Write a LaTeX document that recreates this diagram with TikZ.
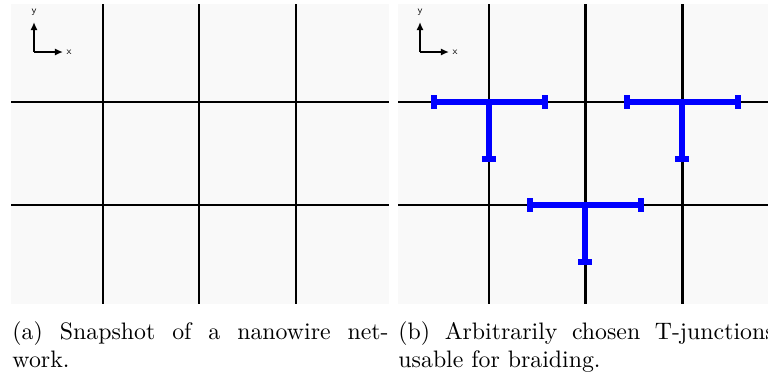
\documentclass[tikz,border=0pt]{standalone}
\usepackage{tikz}
\usetikzlibrary{arrows.meta}
\definecolor{panelbg}{RGB}{249,249,249}
\definecolor{wireblue}{RGB}{0,0,255}

\tikzset{
  wire/.style={line width=1.25pt, black},
  tarm/.style={line width=2.4pt, wireblue},
  tcap/.style={fill=wireblue},
  axis/.style={line width=0.85pt, -{Latex[length=3.4pt,width=3pt]}},
  axlabel/.style={font=\fontsize{4.2}{5}\selectfont\sffamily, inner sep=0pt},
  caption/.style={anchor=base west, inner sep=0pt, text width=158pt, align=justify}
}

\begin{document}
\begin{tikzpicture}[x=0.42pt, y=-0.42pt]
    \useasboundingbox (0,0) rectangle (768,376);

    % panel (a): bare network
    \fill[panelbg] (11,4) rectangle (389,304);
    \foreach \x in {103,199,296} {\draw[wire] (\x,4) -- (\x,304);}
    \foreach \y in {102,205} {\draw[wire] (11,\y) -- (389,\y);}
    \coordinate (oa) at (34,52);
    \draw[axis] (oa) -- ++(0,-30);
    \draw[axis] (oa) -- ++(29,0);
    \node[axlabel] (ya) at (34,12) {y};
    \node[axlabel] (xa) at (69,52) {x};

    % panel (b): network with T-junctions
    \fill[panelbg] (398,4) rectangle (768,304);
    \foreach \x in {489,585,682} {\draw[wire] (\x,4) -- (\x,304);}
    \foreach \y in {102,205} {\draw[wire] (398,\y) -- (768,\y);}
    \coordinate (ob) at (420,52);
    \draw[axis] (ob) -- ++(0,-30);
    \draw[axis] (ob) -- ++(29,0);
    \node[axlabel] (yb) at (420,12) {y};
    \node[axlabel] (xb) at (455,52) {x};

    \foreach \n/\cx/\cy in {t1/489/102, t2/682/102, t3/585/205} {
        \coordinate (\n) at (\cx,\cy);
        \draw[tarm] (\n) ++(-55,0) -- ++(111,0);
        \draw[tarm] (\n) -- ++(0,57);
        \fill[tcap] (\n) ++(-58,-7) rectangle ++(6,14);
        \fill[tcap] (\n) ++(53,-7) rectangle ++(6,14);
        \fill[tcap] (\n) ++(-7,54) rectangle ++(14,6);
    }

    \node[caption] (capa) at (12,339) {(a) Snapshot of a nanowire net-\linebreak work.};
    \node[caption] (capb) at (398,339) {(b) Arbitrarily chosen T-junctions\linebreak usable for braiding.};
\end{tikzpicture}
\end{document}
